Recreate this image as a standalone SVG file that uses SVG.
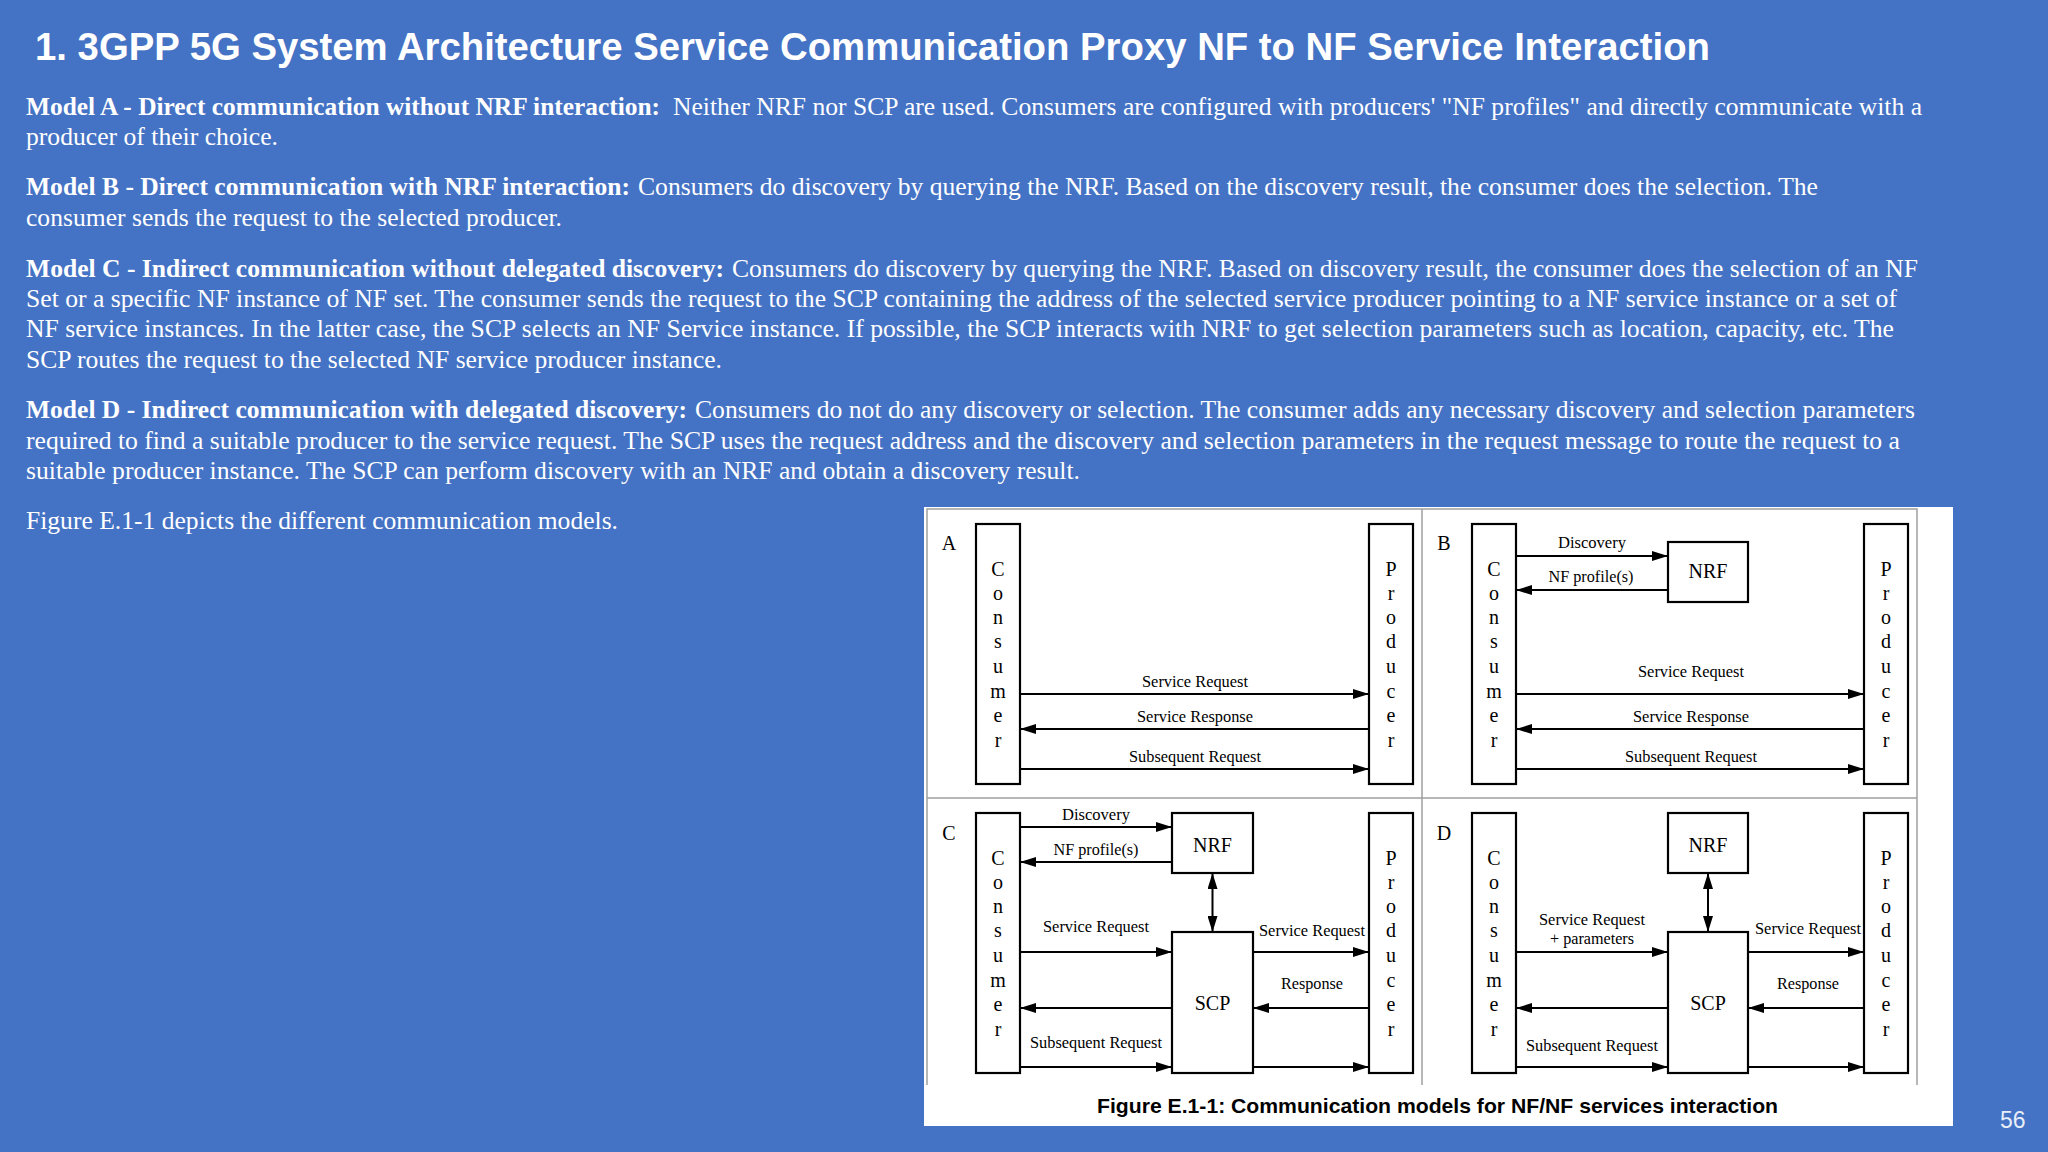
<svg xmlns="http://www.w3.org/2000/svg" width="2048" height="1152" viewBox="0 0 2048 1152">
<defs>
<style>
.title{font-family:"Liberation Sans",Arial,sans-serif;font-weight:bold;font-size:39px;fill:#fff}
.p{font-family:"Liberation Serif","Times New Roman",serif;font-size:26px;fill:#fff}
.b{font-weight:bold}
.box{fill:#fff;stroke:#000;stroke-width:2.2}
.frame{stroke:#a0a0a0;stroke-width:1.5;fill:none}
.ln{stroke:#000;stroke-width:2;fill:none}
.lbl{font-family:"Liberation Serif","Times New Roman",serif;font-size:16.5px;fill:#000;text-anchor:middle}
.big{font-family:"Liberation Serif","Times New Roman",serif;font-size:20px;fill:#000;text-anchor:middle}
.cap{font-family:"Liberation Sans",Arial,sans-serif;font-weight:bold;font-size:21px;fill:#000}
.pg{font-family:"Liberation Sans",Arial,sans-serif;font-size:23px;fill:#e8eef8}
</style>
<marker id="ah" viewBox="0 0 16 10" refX="16" refY="5" markerWidth="16" markerHeight="10" markerUnits="userSpaceOnUse" orient="auto-start-reverse">
<path d="M0,0 L16,5 L0,10 z" fill="#000"/>
</marker>
</defs>
<rect x="0" y="0" width="2048" height="1152" fill="#4472C4"/>

<text class="title" x="35" y="60" textLength="1675" lengthAdjust="spacingAndGlyphs">1. 3GPP 5G System Architecture Service Communication Proxy NF to NF Service Interaction</text>

<g id="text-body">
<text class="p" y="115"><tspan class="b" x="26" textLength="634" lengthAdjust="spacingAndGlyphs">Model A - Direct communication without NRF interaction:</tspan><tspan x="673" textLength="1249" lengthAdjust="spacingAndGlyphs">Neither NRF nor SCP are used. Consumers are configured with producers' "NF profiles" and directly communicate with a</tspan></text>
<text class="p" x="26" y="145" textLength="252" lengthAdjust="spacingAndGlyphs">producer of their choice.</text>

<text class="p" y="195"><tspan class="b" x="26" textLength="604" lengthAdjust="spacingAndGlyphs">Model B - Direct communication with NRF interaction:</tspan><tspan x="638" textLength="1180" lengthAdjust="spacingAndGlyphs">Consumers do discovery by querying the NRF. Based on the discovery result, the consumer does the selection. The</tspan></text>
<text class="p" x="26" y="226" textLength="536" lengthAdjust="spacingAndGlyphs">consumer sends the request to the selected producer.</text>

<text class="p" y="277"><tspan class="b" x="26" textLength="698" lengthAdjust="spacingAndGlyphs">Model C - Indirect communication without delegated discovery:</tspan><tspan x="732" textLength="1186" lengthAdjust="spacingAndGlyphs">Consumers do discovery by querying the NRF. Based on discovery result, the consumer does the selection of an NF</tspan></text>
<text class="p" x="26" y="307" textLength="1871" lengthAdjust="spacingAndGlyphs">Set or a specific NF instance of NF set. The consumer sends the request to the SCP containing the address of the selected service producer pointing to a NF service instance or a set of</text>
<text class="p" x="26" y="337" textLength="1868" lengthAdjust="spacingAndGlyphs">NF service instances. In the latter case, the SCP selects an NF Service instance. If possible, the SCP interacts with NRF to get selection parameters such as location, capacity, etc. The</text>
<text class="p" x="26" y="368" textLength="696" lengthAdjust="spacingAndGlyphs">SCP routes the request to the selected NF service producer instance.</text>

<text class="p" y="418"><tspan class="b" x="26" textLength="661" lengthAdjust="spacingAndGlyphs">Model D - Indirect communication with delegated discovery:</tspan><tspan x="695" textLength="1220" lengthAdjust="spacingAndGlyphs">Consumers do not do any discovery or selection. The consumer adds any necessary discovery and selection parameters</tspan></text>
<text class="p" x="26" y="449" textLength="1874" lengthAdjust="spacingAndGlyphs">required to find a suitable producer to the service request. The SCP uses the request address and the discovery and selection parameters in the request message to route the request to a</text>
<text class="p" x="26" y="479" textLength="1054" lengthAdjust="spacingAndGlyphs">suitable producer instance. The SCP can perform discovery with an NRF and obtain a discovery result.</text>

<text class="p" x="26" y="529" textLength="592" lengthAdjust="spacingAndGlyphs">Figure E.1-1 depicts the different communication models.</text>
</g>

<g id="figure">
<rect x="924" y="507" width="1029" height="619" fill="#fff"/>
<path class="frame" d="M927,1085 V509 H1917 V1085 M1422,509 V1085 M927,798 H1917"/>
<text class="big" x="949" y="550">A</text>
<text class="big" x="1444" y="550">B</text>
<text class="big" x="949" y="840">C</text>
<text class="big" x="1444" y="840">D</text>
<text class="cap" x="1097" y="1113" textLength="681" lengthAdjust="spacingAndGlyphs">Figure E.1-1: Communication models for NF/NF services interaction</text>
</g>

<!-- Panel A nodes -->
<g id="A-consumer">
<rect class="box" x="976" y="524" width="44" height="260"/>
<text class="big"><tspan x="998" y="576">C</tspan><tspan x="998" y="600">o</tspan><tspan x="998" y="624">n</tspan><tspan x="998" y="648">s</tspan><tspan x="998" y="673">u</tspan><tspan x="998" y="698">m</tspan><tspan x="998" y="722">e</tspan><tspan x="998" y="747">r</tspan></text>
</g>
<g id="A-producer">
<rect class="box" x="1369" y="524" width="44" height="260"/>
<text class="big"><tspan x="1391" y="576">P</tspan><tspan x="1391" y="600">r</tspan><tspan x="1391" y="624">o</tspan><tspan x="1391" y="648">d</tspan><tspan x="1391" y="673">u</tspan><tspan x="1391" y="698">c</tspan><tspan x="1391" y="722">e</tspan><tspan x="1391" y="747">r</tspan></text>
</g>

<!-- Panel B nodes -->
<g id="B-consumer">
<rect class="box" x="1472" y="524" width="44" height="260"/>
<text class="big"><tspan x="1494" y="576">C</tspan><tspan x="1494" y="600">o</tspan><tspan x="1494" y="624">n</tspan><tspan x="1494" y="648">s</tspan><tspan x="1494" y="673">u</tspan><tspan x="1494" y="698">m</tspan><tspan x="1494" y="722">e</tspan><tspan x="1494" y="747">r</tspan></text>
</g>
<g id="B-nrf">
<rect class="box" x="1668" y="542" width="80" height="60"/>
<text class="big" x="1708" y="578">NRF</text>
</g>
<g id="B-producer">
<rect class="box" x="1864" y="524" width="44" height="260"/>
<text class="big"><tspan x="1886" y="576">P</tspan><tspan x="1886" y="600">r</tspan><tspan x="1886" y="624">o</tspan><tspan x="1886" y="648">d</tspan><tspan x="1886" y="673">u</tspan><tspan x="1886" y="698">c</tspan><tspan x="1886" y="722">e</tspan><tspan x="1886" y="747">r</tspan></text>
</g>

<!-- Panel C nodes -->
<g id="C-consumer">
<rect class="box" x="976" y="813" width="44" height="260"/>
<text class="big"><tspan x="998" y="865">C</tspan><tspan x="998" y="889">o</tspan><tspan x="998" y="913">n</tspan><tspan x="998" y="937">s</tspan><tspan x="998" y="962">u</tspan><tspan x="998" y="987">m</tspan><tspan x="998" y="1011">e</tspan><tspan x="998" y="1036">r</tspan></text>
</g>
<g id="C-nrf">
<rect class="box" x="1172" y="813" width="81" height="60"/>
<text class="big" x="1212.5" y="852">NRF</text>
</g>
<g id="C-scp">
<rect class="box" x="1172" y="932" width="81" height="141"/>
<text class="big" x="1212.5" y="1010">SCP</text>
</g>
<g id="C-producer">
<rect class="box" x="1369" y="813" width="44" height="260"/>
<text class="big"><tspan x="1391" y="865">P</tspan><tspan x="1391" y="889">r</tspan><tspan x="1391" y="913">o</tspan><tspan x="1391" y="937">d</tspan><tspan x="1391" y="962">u</tspan><tspan x="1391" y="987">c</tspan><tspan x="1391" y="1011">e</tspan><tspan x="1391" y="1036">r</tspan></text>
</g>

<!-- Panel D nodes -->
<g id="D-consumer">
<rect class="box" x="1472" y="813" width="44" height="260"/>
<text class="big"><tspan x="1494" y="865">C</tspan><tspan x="1494" y="889">o</tspan><tspan x="1494" y="913">n</tspan><tspan x="1494" y="937">s</tspan><tspan x="1494" y="962">u</tspan><tspan x="1494" y="987">m</tspan><tspan x="1494" y="1011">e</tspan><tspan x="1494" y="1036">r</tspan></text>
</g>
<g id="D-nrf">
<rect class="box" x="1668" y="813" width="80" height="60"/>
<text class="big" x="1708" y="852">NRF</text>
</g>
<g id="D-scp">
<rect class="box" x="1668" y="932" width="80" height="141"/>
<text class="big" x="1708" y="1010">SCP</text>
</g>
<g id="D-producer">
<rect class="box" x="1864" y="813" width="44" height="260"/>
<text class="big"><tspan x="1886" y="865">P</tspan><tspan x="1886" y="889">r</tspan><tspan x="1886" y="913">o</tspan><tspan x="1886" y="937">d</tspan><tspan x="1886" y="962">u</tspan><tspan x="1886" y="987">c</tspan><tspan x="1886" y="1011">e</tspan><tspan x="1886" y="1036">r</tspan></text>
</g>

<g id="connectors">
<!-- A -->
<line class="ln" x1="1020" y1="694" x2="1369" y2="694" marker-end="url(#ah)"/>
<line class="ln" x1="1369" y1="729" x2="1020" y2="729" marker-end="url(#ah)"/>
<line class="ln" x1="1020" y1="769" x2="1369" y2="769" marker-end="url(#ah)"/>
<text class="lbl" x="1195" y="687" textLength="106" lengthAdjust="spacingAndGlyphs">Service Request</text>
<text class="lbl" x="1195" y="722" textLength="116" lengthAdjust="spacingAndGlyphs">Service Response</text>
<text class="lbl" x="1195" y="762" textLength="132" lengthAdjust="spacingAndGlyphs">Subsequent Request</text>
<!-- B -->
<line class="ln" x1="1516" y1="556" x2="1668" y2="556" marker-end="url(#ah)"/>
<line class="ln" x1="1668" y1="590" x2="1516" y2="590" marker-end="url(#ah)"/>
<text class="lbl" x="1592" y="548" textLength="68" lengthAdjust="spacingAndGlyphs">Discovery</text>
<text class="lbl" x="1591" y="582" textLength="85" lengthAdjust="spacingAndGlyphs">NF profile(s)</text>
<line class="ln" x1="1516" y1="694" x2="1864" y2="694" marker-end="url(#ah)"/>
<line class="ln" x1="1864" y1="729" x2="1516" y2="729" marker-end="url(#ah)"/>
<line class="ln" x1="1516" y1="769" x2="1864" y2="769" marker-end="url(#ah)"/>
<text class="lbl" x="1691" y="677" textLength="106" lengthAdjust="spacingAndGlyphs">Service Request</text>
<text class="lbl" x="1691" y="722" textLength="116" lengthAdjust="spacingAndGlyphs">Service Response</text>
<text class="lbl" x="1691" y="762" textLength="132" lengthAdjust="spacingAndGlyphs">Subsequent Request</text>
<!-- C -->
<line class="ln" x1="1020" y1="827" x2="1172" y2="827" marker-end="url(#ah)"/>
<line class="ln" x1="1172" y1="862" x2="1020" y2="862" marker-end="url(#ah)"/>
<text class="lbl" x="1096" y="820" textLength="68" lengthAdjust="spacingAndGlyphs">Discovery</text>
<text class="lbl" x="1096" y="855" textLength="85" lengthAdjust="spacingAndGlyphs">NF profile(s)</text>
<line class="ln" x1="1212.5" y1="873" x2="1212.5" y2="932" marker-start="url(#ah)" marker-end="url(#ah)"/>
<line class="ln" x1="1020" y1="952" x2="1172" y2="952" marker-end="url(#ah)"/>
<line class="ln" x1="1172" y1="1008" x2="1020" y2="1008" marker-end="url(#ah)"/>
<line class="ln" x1="1020" y1="1067" x2="1172" y2="1067" marker-end="url(#ah)"/>
<text class="lbl" x="1096" y="932" textLength="106" lengthAdjust="spacingAndGlyphs">Service Request</text>
<text class="lbl" x="1096" y="1048" textLength="132" lengthAdjust="spacingAndGlyphs">Subsequent Request</text>
<line class="ln" x1="1253" y1="952" x2="1369" y2="952" marker-end="url(#ah)"/>
<line class="ln" x1="1369" y1="1008" x2="1253" y2="1008" marker-end="url(#ah)"/>
<line class="ln" x1="1253" y1="1067" x2="1369" y2="1067" marker-end="url(#ah)"/>
<text class="lbl" x="1312" y="936" textLength="106" lengthAdjust="spacingAndGlyphs">Service Request</text>
<text class="lbl" x="1312" y="989" textLength="62" lengthAdjust="spacingAndGlyphs">Response</text>
<!-- D -->
<line class="ln" x1="1708" y1="873" x2="1708" y2="932" marker-start="url(#ah)" marker-end="url(#ah)"/>
<line class="ln" x1="1516" y1="952" x2="1668" y2="952" marker-end="url(#ah)"/>
<line class="ln" x1="1668" y1="1008" x2="1516" y2="1008" marker-end="url(#ah)"/>
<line class="ln" x1="1516" y1="1067" x2="1668" y2="1067" marker-end="url(#ah)"/>
<text class="lbl" x="1592" y="925" textLength="106" lengthAdjust="spacingAndGlyphs">Service Request</text>
<text class="lbl" x="1592" y="944" textLength="84" lengthAdjust="spacingAndGlyphs">+ parameters</text>
<text class="lbl" x="1592" y="1051" textLength="132" lengthAdjust="spacingAndGlyphs">Subsequent Request</text>
<line class="ln" x1="1748" y1="952" x2="1864" y2="952" marker-end="url(#ah)"/>
<line class="ln" x1="1864" y1="1008" x2="1748" y2="1008" marker-end="url(#ah)"/>
<line class="ln" x1="1748" y1="1067" x2="1864" y2="1067" marker-end="url(#ah)"/>
<text class="lbl" x="1808" y="934" textLength="106" lengthAdjust="spacingAndGlyphs">Service Request</text>
<text class="lbl" x="1808" y="989" textLength="62" lengthAdjust="spacingAndGlyphs">Response</text>
</g>

<text class="pg" x="2000" y="1128">56</text>
</svg>
